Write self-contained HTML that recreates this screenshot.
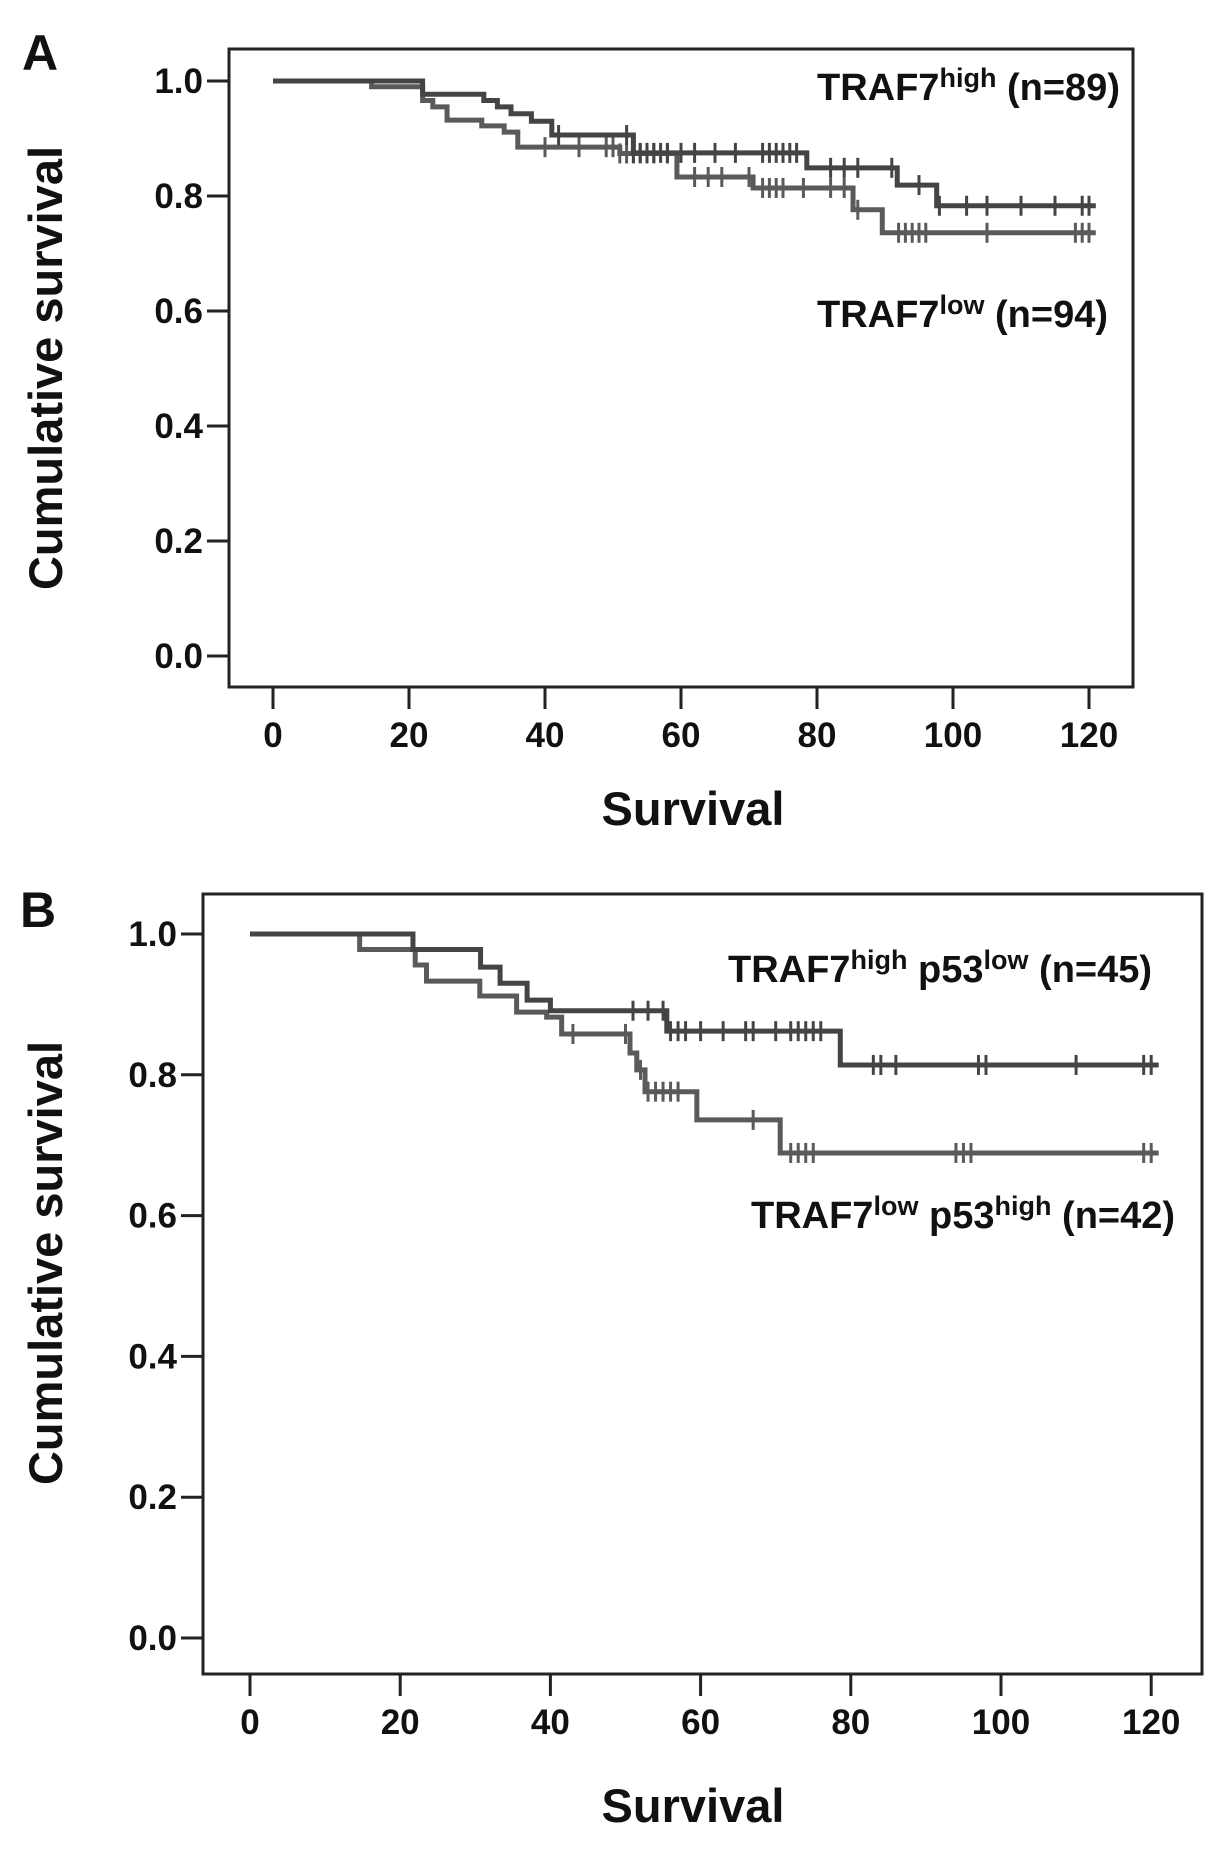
<!DOCTYPE html>
<html><head><meta charset="utf-8"><style>
html,body{margin:0;padding:0;background:#fff;}
svg{display:block;}
.tick{font-family:"Liberation Sans",sans-serif;font-weight:bold;font-size:35px;fill:#111;}
.ttl{font-family:"Liberation Sans",sans-serif;font-weight:bold;font-size:47px;fill:#111;}
.leg{font-family:"Liberation Sans",sans-serif;font-weight:bold;font-size:38px;fill:#111;}
.sup{font-size:27px;}
</style></head><body>
<svg id="fig" width="1228" height="1852" viewBox="0 0 1228 1852">
<text x="22" y="70" class="ttl" style="font-size:50px">A</text>
<text x="20" y="927" class="ttl" style="font-size:50px">B</text>
<text class="ttl" transform="translate(62,368) rotate(-90)" text-anchor="middle">Cumulative survival</text>
<text class="ttl" transform="translate(62,1263) rotate(-90)" text-anchor="middle">Cumulative survival</text>
<text x="693" y="825" class="ttl" text-anchor="middle">Survival</text>
<text x="693" y="1822" class="ttl" text-anchor="middle">Survival</text>
<text x="817" y="100" class="leg">TRAF7<tspan class="sup" dy="-13">high</tspan><tspan dy="13"> (n=89)</tspan></text>
<text x="817" y="327" class="leg">TRAF7<tspan class="sup" dy="-13">low</tspan><tspan dy="13"> (n=94)</tspan></text>
<text x="728" y="982" class="leg">TRAF7<tspan class="sup" dy="-13">high</tspan><tspan dy="13"> p53</tspan><tspan class="sup" dy="-13">low</tspan><tspan dy="13"> (n=45)</tspan></text>
<text x="751" y="1228" class="leg">TRAF7<tspan class="sup" dy="-13">low</tspan><tspan dy="13"> p53</tspan><tspan class="sup" dy="-13">high</tspan><tspan dy="13"> (n=42)</tspan></text>
</svg>
<script>
// Panel A data
const xTickLabels = [0,20,40,60,80,100,120];
const yTickLabels = ["0.0","0.2","0.4","0.6","0.8","1.0"];
const aHighTimes = [22,31,33,35,38,41,53,78.5,91.8,97.6];
const aHighSurv  = [0.977,0.966,0.955,0.943,0.93,0.906,0.875,0.849,0.819,0.783];
const aHighCens  = [42,52,53,54,55,56,57,58,60,62,65,68,72,73,74,75,76,77,82,84,86,91,95,98,102,105,110,115,119,120];
const aLowTimes  = [14.5,22,23.5,25.6,30.7,34,36,51,59.4,70.6,85.3,89.6];
const aLowSurv   = [0.99,0.966,0.955,0.932,0.922,0.911,0.885,0.874,0.833,0.814,0.776,0.736];
const aLowCens   = [40,45,49,50,51,52,53,54,55,56,58,62,64,66,70,72,73,74,75,78,82,84,86,92,93,94,95,96,105,118,119,120];
// Panel B data
const bHighTimes = [21.7,30.7,33.3,36.9,40,55.5,78.6];
const bHighSurv  = [0.978,0.953,0.93,0.906,0.891,0.862,0.814];
const bHighCens  = [51,53,55,56,57,58,60,63,66,67,70,72,73,74,75,76,83,84,86,97,98,110,119,120];
const bLowTimes  = [14.6,22,23.5,30.6,35.5,39.5,41.5,50.6,51.5,52.6,59.5,70.6];
const bLowSurv   = [0.978,0.956,0.933,0.912,0.889,0.882,0.858,0.831,0.807,0.776,0.736,0.689];
const bLowCens   = [43,50,52,53,54,55,56,57,67,72,73,74,75,94,95,96,119,120];

const NS='http://www.w3.org/2000/svg';
const svg=document.getElementById('fig');
function mk(tag,attrs){const e=document.createElementNS(NS,tag);for(const k in attrs)e.setAttribute(k,attrs[k]);svg.appendChild(e);return e;}

function panel(p, id){
  const X=v=>p.x0+v*p.xs, Y=v=>p.y0-v*p.ys;
  const box=mk('rect',{x:p.l,y:p.t,width:p.r-p.l,height:p.b-p.t,fill:'none',stroke:'#222','stroke-width':3});
  
  
  yTickLabels.forEach(s=>{const v=parseFloat(s);
    const t=mk('line',{x1:p.l-22,x2:p.l,y1:Y(v),y2:Y(v),stroke:'#222','stroke-width':3});
    
    
    const tx=mk('text',{x:p.l-26,y:Y(v)+12,'text-anchor':'end',class:'tick'});tx.textContent=s;
    
    
  });
  xTickLabels.forEach(v=>{
    const t=mk('line',{x1:X(v),x2:X(v),y1:p.b,y2:p.b+22,stroke:'#222','stroke-width':3});
    
    
    const tx=mk('text',{x:X(v),y:p.b+60,'text-anchor':'middle',class:'tick'});tx.textContent=v;
    
    
  });
  p.series.forEach(s=>{
    let d='M'+X(0)+','+Y(1);
    s.times.forEach((t,i)=>{d+=' H'+X(t)+' V'+Y(s.surv[i]);});
    d+=' H'+X(121);
    const path=mk('path',{d:d,fill:'none',stroke:s.color,'stroke-width':5});
    
    
    s.cens.forEach(c=>{
      let v=1;s.times.forEach((t,i)=>{if(t<=c)v=s.surv[i];});
      const m=mk('line',{x1:X(c),x2:X(c),y1:Y(v)-10,y2:Y(v)+10,stroke:s.color,'stroke-width':3});
      
      
    });
  });
}
panel({l:229,t:49,r:1133,b:687,x0:273,xs:6.8,y0:656,ys:575,series:[
  {name:'traf7-low',times:aLowTimes,surv:aLowSurv,cens:aLowCens,color:'#5a5a5a'},
  {name:'traf7-high',times:aHighTimes,surv:aHighSurv,cens:aHighCens,color:'#444'}]},'panel-a');
panel({l:203,t:894,r:1202,b:1674,x0:250,xs:7.51,y0:1638,ys:704,series:[
  {name:'traf7-low-p53-high',times:bLowTimes,surv:bLowSurv,cens:bLowCens,color:'#5a5a5a'},
  {name:'traf7-high-p53-low',times:bHighTimes,surv:bHighSurv,cens:bHighCens,color:'#444'}]},'panel-b');
</script>
</body></html>
